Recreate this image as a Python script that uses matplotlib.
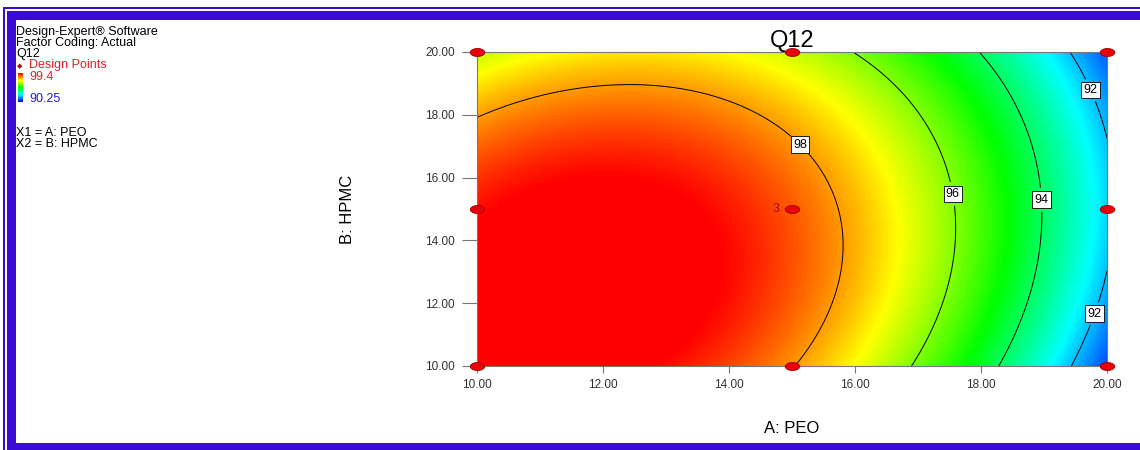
import numpy as np
import matplotlib
matplotlib.use("Agg")
import matplotlib.pyplot as plt
from matplotlib.colors import LinearSegmentedColormap
from matplotlib.markers import MarkerStyle
from matplotlib.transforms import Affine2D
from matplotlib.patches import Rectangle

plt.rcParams["font.family"] = ["Liberation Sans", "DejaVu Sans"]

# design points (actual units)
peo_pts = [10, 10, 10, 15, 15, 15, 20, 20, 20]
hpmc_pts = [10, 15, 20, 10, 15, 20, 10, 15, 20]
center_reps = 3

# quadratic model for Q12 in coded units, estimated from the contour lines
b0, bA, bB, bAB, bA2, bB2 = 98.58, -3.53, -0.70, 0.77, -2.83, -1.24
q_min, q_max = 90.25, 99.4
levels = [92, 94, 96, 98]
label_pos = [(19.76, 11.7), (19.76, 18.8), (18.98, 15.3), (17.6, 15.5), (15.2, 17.2)]

BLUE = "#3A0BD6"
cmap = LinearSegmentedColormap.from_list(
    "de", [(0, "#0000FF"), (0.25, "#00FFFF"), (0.5, "#00FF00"),
           (0.75, "#FFFF00"), (1, "#FF0000")])

W, H = 1140, 450
fig = plt.figure(figsize=(W / 100, H / 100), dpi=100)

def px(x0, y0, x1, y1):
    # pixel box (from top-left) -> figure fraction rect
    return (x0 / W, 1 - y1 / H, (x1 - x0) / W, (y1 - y0) / H)

# blue frame: thin outer line, white gap, thick band
for (x0, y0, x1, y1) in [(3, 7, W, 9), (3, 7, 5, H), (6.5, 11, W, 20),
                         (6.5, 11, 15.5, H), (6.5, 443, W, H)]:
    l, b, w, h = px(x0, y0, x1, y1)
    fig.patches.append(Rectangle((l, b), w, h, transform=fig.transFigure,
                                 color=BLUE, lw=0, zorder=0))

ax = fig.add_axes([477 / W, 1 - 366 / H, 630 / W, 314 / H])

A = np.linspace(10, 20, 301)
B = np.linspace(10, 20, 301)
AA, BB = np.meshgrid(A, B)
a = (AA - 15) / 5
b = (BB - 15) / 5
Q = b0 + bA * a + bB * b + bAB * a * b + bA2 * a ** 2 + bB2 * b ** 2

ax.imshow(Q, extent=(10, 20, 10, 20), origin="lower", cmap=cmap,
          vmin=q_min, vmax=q_max, aspect="auto", interpolation="bilinear")
cs = ax.contour(AA, BB, Q, levels=levels, colors="black", linewidths=0.7)
labels = ax.clabel(cs, fmt="%d", fontsize=9, manual=label_pos, inline=True)
for t in labels:
    t.set_rotation(0)
    t.set_bbox(dict(facecolor="white", edgecolor="black", linewidth=0.6, pad=1.6))

ell = MarkerStyle("o", transform=Affine2D().scale(1.0, 0.55))
ax.scatter(peo_pts, hpmc_pts, marker=ell, s=110, facecolor="#E8000B",
           edgecolor="#A00000", linewidth=0.6, zorder=5, clip_on=False)
ax.text(14.8, 15, str(center_reps), ha="right", va="center", fontsize=9,
        color="#9A1010")

ax.set_xlim(10, 20)
ax.set_ylim(10, 20)
ticks = [10, 12, 14, 16, 18, 20]
ax.set_xticks(ticks)
ax.set_yticks(ticks)
ax.set_xticklabels([f"{v:.2f}" for v in ticks])
ax.set_yticklabels([f"{v:.2f}" for v in ticks])
ax.tick_params(direction="out", width=0.8, colors="#777777",
               labelcolor="#333333", labelsize=8.5)
ax.tick_params(axis="x", length=5, pad=4)
ax.tick_params(axis="y", length=11, pad=5)
for s in ax.spines.values():
    s.set_color("#777777")
    s.set_linewidth(0.8)

ax.set_title("Q12", fontsize=17, pad=3.5)
ax.set_xlabel("A: PEO", fontsize=12)
ax.set_ylabel("B: HPMC", fontsize=12)
ax.xaxis.set_label_coords(0.5, -0.175)
ax.yaxis.set_label_coords(-0.194, 0.5)

# info block at top left
def ftxt(x, y, s, **kw):
    fig.text(x / W, 1 - y / H, s, va="center", ha="left", fontsize=9, **kw)

ftxt(16, 32, "Design-Expert® Software")
ftxt(16, 43, "Factor Coding: Actual")
ftxt(16, 54, "Q12")
ftxt(29, 65, "Design Points", color="#E0202A")
fig.text(20 / W, 1 - 67 / H, "\u25c6", fontsize=5, color="#B01010",
         ha="center", va="center")
ftxt(29, 77, str(q_max), color="#E0202A")
ftxt(29, 99, str(q_min), color="#2020D0")
ftxt(16, 133, "X1 = A: PEO")
ftxt(16, 144, "X2 = B: HPMC")

cax = fig.add_axes(px(18, 73, 23, 102))
cax.imshow(np.linspace(1, 0, 50)[:, None], cmap=cmap, aspect="auto")
cax.axis("off")

fig.savefig("out.png", dpi=100)
